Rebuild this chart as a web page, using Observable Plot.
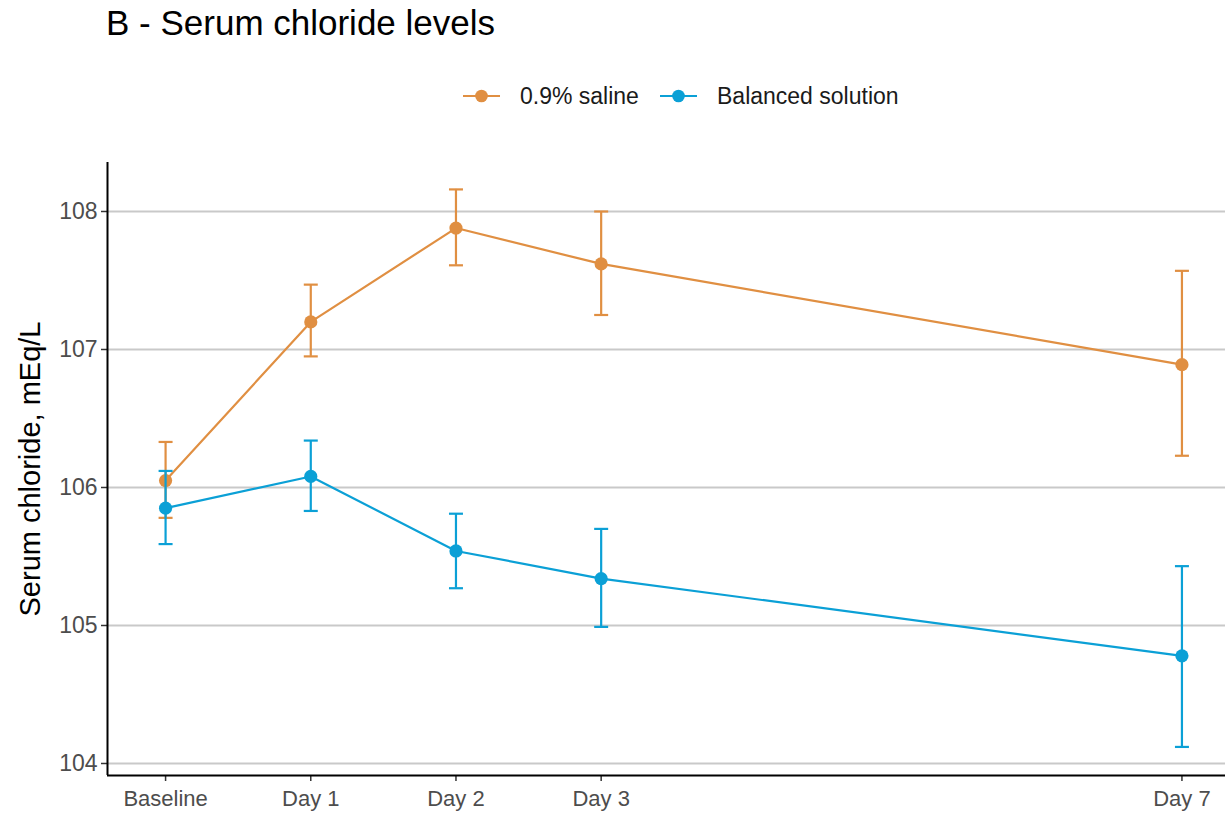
<!DOCTYPE html>
<html>
<head>
<meta charset="utf-8">
<script src="https://cdn.jsdelivr.net/npm/d3@7"></script>
<script src="https://cdn.jsdelivr.net/npm/@observablehq/plot@0.6"></script>
<style>
  html, body { margin: 0; padding: 0; background: #fff; }
  body { width: 1225px; height: 816px; position: relative; overflow: hidden;
         font-family: "Liberation Sans", Arial, sans-serif; }
  #title { position: absolute; left: 106px; top: 3px; font-size: 35px; color: #000; white-space: nowrap; }
  #legend { position: absolute; left: 0; top: 80px; width: 1225px; height: 34px; }
  #chart { position: absolute; left: 0; top: 130px; }
</style>
</head>
<body>
<div id="title">B - Serum chloride levels</div>
<div id="legend"></div>
<div id="chart"></div>
<script>
// ---- data ----
const timeLabels = ["Baseline", "Day 1", "Day 2", "Day 3", "Day 7"];
const timeDays = [0, 1, 2, 3, 7];
const groups = ["0.9% saline", "Balanced solution"];
const groupColors = ["#E08F42", "#0BA0D6"];
const salineMean = [106.05, 107.20, 107.88, 107.62, 106.89];
const salineLow  = [105.78, 106.95, 107.61, 107.25, 106.23];
const salineHigh = [106.33, 107.47, 108.16, 108.00, 107.57];
const balancedMean = [105.85, 106.08, 105.54, 105.34, 104.78];
const balancedLow  = [105.59, 105.83, 105.27, 104.99, 104.12];
const balancedHigh = [106.12, 106.34, 105.81, 105.70, 105.43];
const yTicks = [104, 105, 106, 107, 108];
const yLabel = "Serum chloride, mEq/L";

const xDomain = [-0.4, 7.3];
const yDomain = [103.913, 108.355];

function rows(group, mean, low, high) {
  return timeDays.map((d, i) => ({group, day: d, mean: mean[i], low: low[i], high: high[i]}));
}
const saline = rows(groups[0], salineMean, salineLow, salineHigh);
const balanced = rows(groups[1], balancedMean, balancedLow, balancedHigh);

const capSymbol = {
  draw(context, size) {
    const r = Math.sqrt(size / Math.PI);
    context.moveTo(-r, 0);
    context.lineTo(r, 0);
  }
};

function seriesMarks(data) {
  const caps = data.flatMap(d => [{group: d.group, day: d.day, v: d.low}, {group: d.group, day: d.day, v: d.high}]);
  return [
    Plot.ruleX(data, {x: "day", y1: "low", y2: "high", stroke: "group", strokeWidth: 2.2}),
    Plot.dot(caps, {x: "day", y: "v", symbol: capSymbol, r: 7, stroke: "group", fill: "none", strokeWidth: 2.2}),
    Plot.line(data, {x: "day", y: "mean", stroke: "group", strokeWidth: 2.2}),
    Plot.dot(data, {x: "day", y: "mean", fill: "group", r: 6.6, stroke: "none"})
  ];
}

const chart = Plot.plot({
  width: 1225,
  height: 686,
  marginTop: 32,
  marginBottom: 41,
  marginLeft: 107,
  marginRight: 0,
  style: {fontFamily: "Liberation Sans, Arial, sans-serif", background: "#fff", overflow: "visible"},
  x: {domain: xDomain},
  y: {domain: yDomain},
  color: {domain: groups, range: groupColors},
  marks: [
    Plot.gridY(yTicks, {stroke: "#c9c9c9", strokeOpacity: 1, strokeWidth: 2}),
    Plot.axisY(yTicks, {tickSize: 6, tickPadding: 4, fontSize: 23, color: "#4d4d4d", stroke: "#333", strokeWidth: 1.5, label: null,
      tickFormat: d => String(d)}),
    Plot.axisX(timeDays, {tickSize: 6, tickPadding: 9, fontSize: 22, color: "#4d4d4d", stroke: "#333", strokeWidth: 1.5, label: null,
      tickFormat: d => timeLabels[timeDays.indexOf(d)]}),
    Plot.ruleX([xDomain[0]], {stroke: "#000", strokeWidth: 2}),
    Plot.ruleY([yDomain[0]], {stroke: "#000", strokeWidth: 2}),
    Plot.text([yLabel], {frameAnchor: "left", dx: -77, rotate: -90, fontSize: 29, fill: "#000", textAnchor: "middle", lineAnchor: "middle"}),
    ...seriesMarks(saline),
    ...seriesMarks(balanced)
  ]
});
document.getElementById("chart").appendChild(chart);

// ---- legend ----
const legend = d3.select("#legend").append("svg").attr("width", 1225).attr("height", 34);
const items = [
  {label: groups[0], color: groupColors[0], x: 463},
  {label: groups[1], color: groupColors[1], x: 660}
];
items.forEach(it => {
  const g = legend.append("g").attr("transform", `translate(${it.x},16)`);
  g.append("line").attr("x1", 0).attr("x2", 37).attr("y1", 0).attr("y2", 0).attr("stroke", it.color).attr("stroke-width", 2.2);
  g.append("circle").attr("cx", 18.5).attr("cy", 0).attr("r", 6.3).attr("fill", it.color);
  g.append("text").attr("x", 57).attr("y", 0).attr("dy", "0.36em").attr("font-size", 23)
    .attr("font-family", "Liberation Sans, Arial, sans-serif").attr("fill", "#1a1a1a").text(it.label);
});
</script>
</body>
</html>
